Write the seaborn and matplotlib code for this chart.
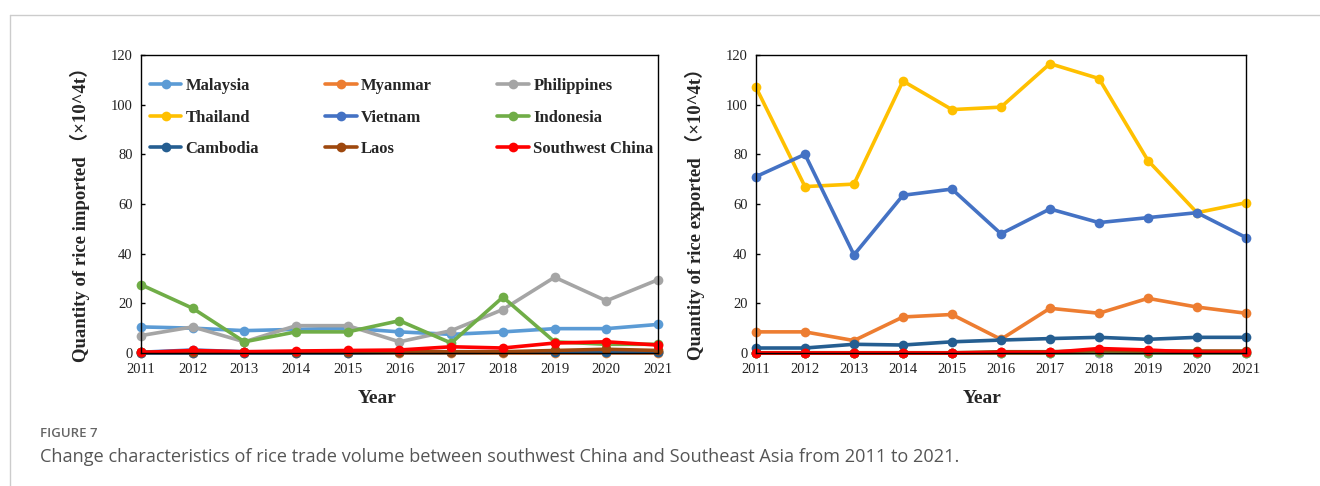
import pandas as pd
import matplotlib.pyplot as plt
import seaborn as sns
from matplotlib.lines import Line2D

years = list(range(2011, 2022))
countries = ['Malaysia', 'Myanmar', 'Philippines', 'Thailand', 'Vietnam',
             'Indonesia', 'Cambodia', 'Laos', 'Southwest China']
colors = ['#5B9BD5', '#ED7D31', '#A5A5A5', '#FFC000', '#4472C4',
          '#70AD47', '#255E91', '#9E480E', '#FF0000']

# imports (10^4 t)
imp_malaysia = [10.5, 10, 9, 9.5, 10, 8.5, 7.5, 8.5, 9.8, 9.8, 11.5]
imp_myanmar = [0, 0, 0, 0, 0, 0, 0, 0, 0, 0, 0]
imp_philippines = [7, 10.5, 4.5, 11, 11, 4.5, 9, 17.5, 30.5, 21, 29.5]
imp_thailand = [0.2, 0.2, 0.2, 0.2, 0.2, 0.2, 0.2, 0.2, 0.2, 0.2, 0.2]
imp_vietnam = [0.3, 1.2, 0.5, 0.5, 0.5, 0.5, 0.5, 0.5, 0.3, 0.3, 0.3]
imp_indonesia = [27.5, 18, 4.5, 8.5, 8.5, 13, 4, 22.5, 4.5, 3.5, 3.5]
imp_cambodia = [0, 0, 0, 0, 0, 0.2, 0.2, 0.3, 0.3, 0.3, 0.3]
imp_laos = [0.3, 0.3, 0.3, 0.3, 0.3, 0.5, 0.5, 0.5, 1, 1.5, 1]
imp_swchina = [0.2, 1, 0.5, 0.8, 1, 1.2, 2.5, 2, 4, 4.5, 3.2]

# exports (10^4 t)
exp_malaysia = [0, 0, 0, 0, 0, 0, 0, 0, 0, 0, 0]
exp_myanmar = [8.5, 8.5, 5, 14.5, 15.5, 5.5, 18, 16, 22, 18.5, 16]
exp_philippines = [0, 0, 0, 0, 0, 0, 0, 0, 0, 0, 0]
exp_thailand = [107, 67, 68, 109.5, 98, 99, 116.5, 110.5, 77.5, 56.5, 60.5]
exp_vietnam = [71, 80, 39.5, 63.5, 66, 48, 58, 52.5, 54.5, 56.5, 46.5]
exp_indonesia = [0, 0, 0, 0, 0, 0, 0, 0.3, 0.1, 0.1, 0.1]
exp_cambodia = [2, 2, 3.5, 3.2, 4.5, 5.2, 5.8, 6.3, 5.5, 6.3, 6.3]
exp_laos = [0.1, 0.1, 0.1, 0.1, 0.1, 0.5, 0.5, 1, 0.8, 0.8, 0.8]
exp_swchina = [0, 0, 0, 0, 0, 0.2, 0.2, 1.8, 1.2, 0.3, 0.3]

imports = [imp_malaysia, imp_myanmar, imp_philippines, imp_thailand, imp_vietnam,
           imp_indonesia, imp_cambodia, imp_laos, imp_swchina]
exports = [exp_malaysia, exp_myanmar, exp_philippines, exp_thailand, exp_vietnam,
           exp_indonesia, exp_cambodia, exp_laos, exp_swchina]


def to_long(series):
    rows = []
    for name, vals in zip(countries, series):
        for y, v in zip(years, vals):
            rows.append({'Year': y, 'Value': v, 'Country': name})
    return pd.DataFrame(rows)


sns.set_theme(style='white')
plt.rcParams['font.family'] = ['Liberation Serif', 'Noto Sans CJK SC']

fig = plt.figure(figsize=(13.2, 4.86), dpi=100)
ax1 = fig.add_axes([0.1068, 0.2737, 0.3917, 0.6132])
ax2 = fig.add_axes([0.5727, 0.2737, 0.3712, 0.6132])

palette = dict(zip(countries, colors))
for ax, data, ylab in [(ax1, imports, 'Quantity of rice imported （×10^4t）'),
                       (ax2, exports, 'Quantity of rice exported （×10^4t）')]:
    df = to_long(data)
    sns.lineplot(data=df, x='Year', y='Value', hue='Country', hue_order=countries,
                 palette=palette, marker='o', markersize=7, markeredgewidth=0,
                 linewidth=2.6, legend=False, clip_on=False, ax=ax)
    ax.set_xlim(2011, 2021)
    ax.set_ylim(0, 120)
    ax.set_xticks(years)
    ax.set_yticks(range(0, 121, 20))
    ax.tick_params(axis='both', labelsize=10.5, colors='#222222')
    ax.tick_params(axis='y', direction='in', length=3, width=1, color='black',
                   left=True, pad=6)
    ax.tick_params(axis='x', length=0, pad=7)
    for s in ax.spines.values():
        s.set_color('black')
        s.set_linewidth(1)
    ax.set_xlabel('Year', fontsize=14, fontweight='bold')
    ax.set_ylabel(ylab, fontsize=13.5, fontweight='bold')

ax1.xaxis.set_label_coords(0.456, -0.125)
ax2.xaxis.set_label_coords(0.461, -0.125)
ax1.yaxis.set_label_coords(-0.099, 0.48)
ax2.yaxis.set_label_coords(-0.104, 0.48)

# legend, row-wise order in 3 columns
order = [0, 3, 6, 1, 4, 7, 2, 5, 8]
handles = [Line2D([], [], color=colors[i], marker='o', markersize=7,
                  markeredgewidth=0, linewidth=2.6) for i in order]
labels = [countries[i] for i in order]
ax1.legend(handles, labels, ncol=3, loc='upper left', bbox_to_anchor=(0.017, 0.922),
           frameon=False, borderpad=0, borderaxespad=0, handlelength=1.9,
           handletextpad=0.25, columnspacing=3.95, labelspacing=0.92,
           prop={'family': 'Liberation Serif', 'weight': 'bold', 'size': 12})

# caption and panel border
fig.add_artist(Line2D([10 / 1320, 1], [471 / 486, 471 / 486], color='#cccccc', lw=1))
fig.add_artist(Line2D([10 / 1320, 10 / 1320], [0, 471 / 486], color='#cccccc', lw=1))
fig.text(40 / 1320, 1 - 433 / 486, 'FIGURE 7', family='Open Sans', fontsize=9.5,
         fontweight='semibold', color='#666666', va='center')
fig.text(40 / 1320, 1 - 457 / 486,
         'Change characteristics of rice trade volume between southwest China and '
         'Southeast Asia from 2011 to 2021.',
         family='Open Sans', fontsize=13.1, color='#555555', va='center')

fig.savefig('out.png', dpi=100)
